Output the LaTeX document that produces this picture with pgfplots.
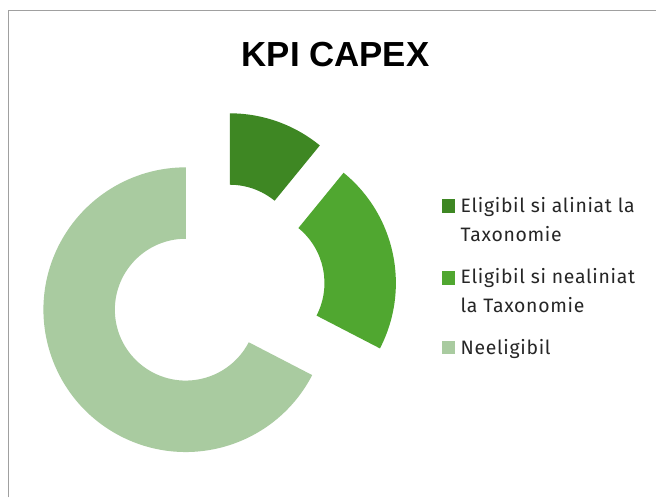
\documentclass[border=0pt]{standalone}
\usepackage{fontspec}
\setmainfont{Liberation Sans}
\newfontfamily\legfont[LetterSpace=3.5]{Fira Sans}
\usepackage{pgfplots}
\usepackage{pgfplotstable}
\pgfplotsset{compat=1.18}

\definecolor{kpiDark}{RGB}{62,135,35}
\definecolor{kpiMid}{RGB}{80,167,48}
\definecolor{kpiLight}{RGB}{169,203,160}
\definecolor{frameGray}{RGB}{160,160,160}

% share of CAPEX, percent
\pgfplotstableread[col sep=comma]{
name,value
aliniat,10.9
nealiniat,21.7
neeligibil,67.4
}\capex

\begin{document}
\begin{tikzpicture}
\pgfplotstablegetelem{0}{value}\of\capex\let\vA\pgfplotsretval
\pgfplotstablegetelem{1}{value}\of\capex\let\vB\pgfplotsretval
\pgfplotstablegetelem{2}{value}\of\capex\let\vC\pgfplotsretval
\pgfmathsetmacro\tot{\vA+\vB+\vC}
% ring geometry (1 axis unit = 1bp), pieces pushed out by \dd
\def\cxO{217.6}\def\cyO{207.2}\def\dd{37}
\def\Ro{142.5}\def\Ri{71}\def\Rd{71.5}
% clockwise from 12 o'clock
\pgfmathsetmacro\aA{90-\vA/\tot*360}
\pgfmathsetmacro\aB{\aA-\vB/\tot*360}
\pgfmathsetmacro\aC{\aB-\vC/\tot*360}
\pgfmathsetmacro\xA{\cxO+\dd*cos((90+\aA)/2)}
\pgfmathsetmacro\yA{\cyO+\dd*sin((90+\aA)/2)}
\pgfmathsetmacro\xB{\cxO+\dd*cos((\aA+\aB)/2)}
\pgfmathsetmacro\yB{\cyO+\dd*sin((\aA+\aB)/2)}
\pgfmathsetmacro\xC{\cxO+\dd*cos((\aB+\aC)/2)}
\pgfmathsetmacro\yC{\cyO+\dd*sin((\aB+\aC)/2)}
\begin{axis}[scale only axis, width=657bp, height=498bp,
    xmin=0, xmax=657, ymin=0, ymax=498, hide axis, clip=false]
\fill[white] (axis cs:0,0) rectangle (axis cs:657,498);
\draw[frameGray, line width=1.5bp] (axis cs:8.5,0) -- (axis cs:8.5,487.5) -- (axis cs:657,487.5);
\node[font=\fontsize{35}{40}\selectfont\bfseries, anchor=base] at (axis cs:336,431) {KPI CAPEX};

\fill[kpiDark] (axis cs:\xA,\yA) ++(90:\Ro bp)
    arc[start angle=90, end angle=\aA, radius=\Ro bp] -- ++(\aA:-\Rd bp)
    arc[start angle=\aA, end angle=90, radius=\Ri bp] -- cycle;
\fill[kpiMid] (axis cs:\xB,\yB) ++(\aA:\Ro bp)
    arc[start angle=\aA, end angle=\aB, radius=\Ro bp] -- ++(\aB:-\Rd bp)
    arc[start angle=\aB, end angle=\aA, radius=\Ri bp] -- cycle;
\fill[kpiLight] (axis cs:\xC,\yC) ++(\aB:\Ro bp)
    arc[start angle=\aB, end angle=\aC, radius=\Ro bp] -- ++(\aC:-\Rd bp)
    arc[start angle=\aC, end angle=\aB, radius=\Ri bp] -- cycle;

% legend
\fill[kpiDark]  (axis cs:442.5,285) rectangle (axis cs:456,298.5);
\fill[kpiMid]   (axis cs:442.5,213) rectangle (axis cs:456,226.5);
\fill[kpiLight] (axis cs:442.5,143.5) rectangle (axis cs:456,157);
\begin{scope}[every node/.style={anchor=base west, inner sep=0pt,
    font=\legfont\fontsize{19.5}{23}\selectfont, text=black!85}]
\node at (axis cs:461,285) {Eligibil si aliniat la};
\node at (axis cs:461,256) {Taxonomie};
\node at (axis cs:461,214) {Eligibil si nealiniat};
\node at (axis cs:461,185) {la Taxonomie};
\node at (axis cs:461,143) {Neeligibil};
\end{scope}
\end{axis}
\end{tikzpicture}
\end{document}
